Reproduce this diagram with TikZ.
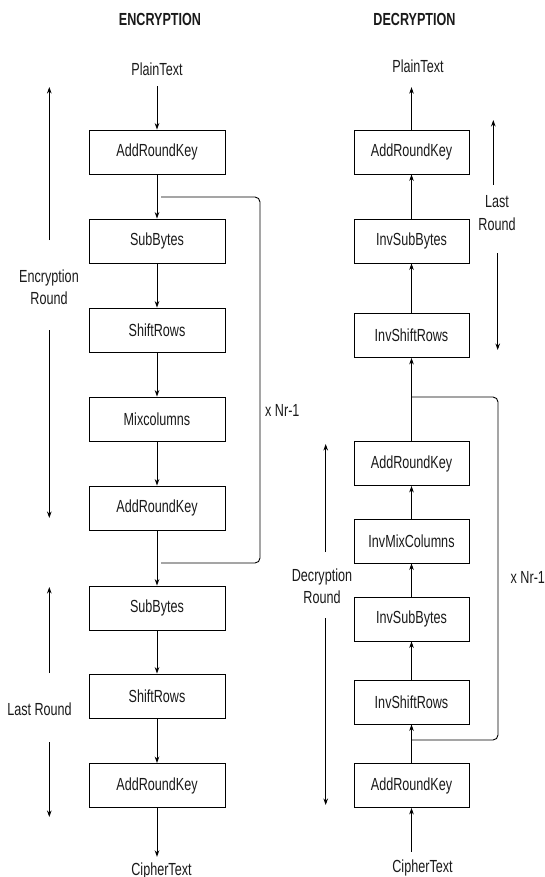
\documentclass[tikz,border=0pt]{standalone}
\usepackage{fontspec}
\setmainfont{Liberation Sans}[FakeStretch=0.72]
\usetikzlibrary{arrows.meta}
\definecolor{txt}{HTML}{1A1A1A}
\tikzset{
  fnt/.style={font=\fontsize{17.5}{22.5}\selectfont, text=txt},
  ebox/.style={fnt, draw=black, line width=0.9pt, minimum width=136pt, minimum height=44pt, inner sep=0pt},
  dbox/.style={ebox, minimum width=115pt},
  lbl/.style={fnt, inner sep=1pt, text height=12.5pt, text depth=3.5pt},
  ttl/.style={lbl, font=\fontsize{17.5}{22.5}\selectfont\bfseries},
  side/.style={fnt, inner sep=0pt, align=center},
  arr/.style={draw=black, line width=0.9pt, -{Stealth[length=6.5pt,width=4.6pt]}},
  loopline/.style={draw=black, line width=0.9pt, rounded corners=5pt}
}
\begin{document}
\begin{tikzpicture}[x=1pt,y=-1pt]
\path[use as bounding box] (0,0) rectangle (545,877);

% titles
\node[ttl, anchor=base] (t1) at (160,26) {ENCRYPTION};
\node[ttl, anchor=base] (t2) at (414.5,26) {DECRYPTION};

% ---------------- encryption ----------------
\node[lbl, anchor=base] (pt1) at (157,76) {PlainText};
\node[ebox] (e1) at (157,152) {AddRoundKey};
\node[ebox] (e2) at (157,241) {SubBytes};
\node[ebox] (e3) at (157,330) {ShiftRows};
\node[ebox] (e4) at (157,419) {Mixcolumns};
\node[ebox] (e5) at (157,508) {AddRoundKey};
\node[ebox] (e6) at (157,608) {SubBytes};
\node[ebox] (e7) at (157,696) {ShiftRows};
\node[ebox] (e8) at (157,785.5) {AddRoundKey};
\node[lbl, anchor=base] (ct1) at (161.5,875) {CipherText};

\draw[arr, shorten <=5.5pt] (pt1.south -| e1.north) -- (e1.north);
\draw[arr] (e1.south) -- (e2.north);
\draw[arr] (e2.south) -- (e3.north);
\draw[arr] (e3.south) -- (e4.north);
\draw[arr] (e4.south) -- (e5.north);
\draw[arr] (e5.south) -- (e6.north);
\draw[arr] (e6.south) -- (e7.north);
\draw[arr] (e7.south) -- (e8.north);
\draw[arr, shorten >=4.5pt] (e8.south) -- (e8.south |- ct1.north);

% encryption loop
\coordinate (la) at (161,197);
\coordinate (lr) at (260,380);
\coordinate (lb) at (161,563);
\draw[loopline] (la) -| (lr) |- (lb);
\node[lbl, anchor=base west] (xn1) at (264,416) {x Nr-1};

% encryption side labels
\node[side] (erl) at (49,287) {Encryption\\Round};
\coordinate (era) at (49.3,240);
\coordinate (erb) at (49.3,87);
\coordinate (erc) at (49.3,330);
\coordinate (erd) at (49.3,518);
\draw[arr] (era) -- (erb);
\draw[arr] (erc) -- (erd);

\node[lbl, anchor=base] (elr) at (39.5,715) {Last Round};
\coordinate (ela) at (49.3,673);
\coordinate (elb) at (49.3,587);
\coordinate (elc) at (49.3,742);
\coordinate (eld) at (49.3,817);
\draw[arr] (ela) -- (elb);
\draw[arr] (elc) -- (eld);

% ---------------- decryption ----------------
\node[lbl, anchor=base] (pt2) at (418,73) {PlainText};
\node[dbox] (d1) at (411.5,152) {AddRoundKey};
\node[dbox] (d2) at (411.5,241) {InvSubBytes};
\node[dbox] (d3) at (411.5,335.5) {InvShiftRows};
\node[dbox] (d4) at (411.5,463.5) {AddRoundKey};
\node[dbox] (d5) at (411.5,541) {InvMixColumns};
\node[dbox] (d6) at (411.5,619) {InvSubBytes};
\node[dbox] (d7) at (411.5,702) {InvShiftRows};
\node[dbox] (d8) at (411.5,785.5) {AddRoundKey};
\node[lbl, anchor=base] (ct2) at (422.5,872) {CipherText};

\draw[arr, shorten >=9.5pt] (d1.north) -- (d1.north |- pt2.south);
\draw[arr] (d2.north) -- (d1.south);
\draw[arr] (d3.north) -- (d2.south);
\draw[arr] (d4.north) -- (d3.south);
\draw[arr] (d5.north) -- (d4.south);
\draw[arr] (d6.north) -- (d5.south);
\draw[arr] (d7.north) -- (d6.south);
\draw[arr] (d8.north) -- (d7.south);
\draw[arr, shorten <=6.5pt] (d8.south |- ct2.north) -- (d8.south);

% decryption loop
\coordinate (ma) at (411.5,397);
\coordinate (mr) at (498,570);
\coordinate (mb) at (411.5,740);
\draw[loopline] (ma) -| (mr) |- (mb);
\node[lbl, anchor=base west] (xn2) at (509.5,583) {x Nr-1};

% decryption side labels
\node[side] (dlr) at (497,213) {Last\\Round};
\coordinate (dla) at (493.3,185);
\coordinate (dlb) at (493.3,120);
\coordinate (dlc) at (497.7,253);
\coordinate (dld) at (497.7,350);
\draw[arr] (dla) -- (dlb);
\draw[arr] (dlc) -- (dld);

\node[side] (drl) at (322,586) {Decryption\\Round};
\coordinate (dra) at (325.7,552);
\coordinate (drb) at (325.7,444);
\coordinate (drc) at (325.7,618);
\coordinate (drd) at (325.7,805);
\draw[arr] (dra) -- (drb);
\draw[arr] (drc) -- (drd);
\end{tikzpicture}
\end{document}
